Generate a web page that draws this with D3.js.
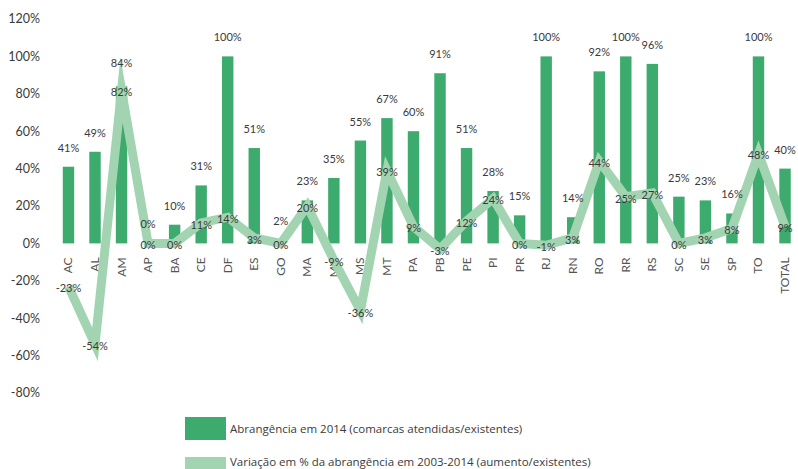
<!DOCTYPE html>
<html>
<head>
<meta charset="utf-8">
<script src="https://cdn.jsdelivr.net/npm/d3@7"></script>
<style>
  body { margin: 0; background: #fff; }
  text { font-family: "Lato", "Open Sans", sans-serif; fill: #3a3a3a; }
</style>
</head>
<body>
<div id="chart"></div>
<script>
const width = 798;
const height = 469;

// data
const states = ["AC", "AL", "AM", "AP", "BA", "CE", "DF", "ES", "GO", "MA", "MG", "MS", "MT", "PA",
  "PB", "PE", "PI", "PR", "RJ", "RN", "RO", "RR", "RS", "SC", "SE", "SP", "TO", "TOTAL"];
const coverage2014 = [41, 49, 84, 0, 10, 31, 100, 51, 2, 23, 35, 55, 67, 60,
  91, 51, 28, 15, 100, 14, 92, 100, 96, 25, 23, 16, 100, 40];
const variation = [-23, -54, 82, 0, 0, 11, 14, 3, 0, 20, -9, -36, 39, 9,
  -3, 12, 24, 0, -1, 3, 44, 25, 27, 0, 3, 8, 48, 9];
const yTicks = [-80, -60, -40, -20, 0, 20, 40, 60, 80, 100, 120];
const legendLabels = [
  "Abrangência em 2014 (comarcas atendidas/existentes)",
  "Variação em % da abrangência em 2003-2014 (aumento/existentes)"
];

const barColor = "#3daa6e";
const lineColor = "#a2d4b2";

const svg = d3.select("#chart")
  .append("svg")
  .attr("width", width)
  .attr("height", height);

const x = d3.scaleBand()
  .domain(states)
  .range([55.2, 798.3])
  .paddingInner(0.57)
  .paddingOuter(0.285);

const y = d3.scaleLinear()
  .domain([-80, 120])
  .range([393, 19]);

// y axis labels
svg.append("g")
  .selectAll("text")
  .data(yTicks)
  .enter()
  .append("text")
  .attr("x", 40)
  .attr("y", d => y(d))
  .attr("dy", "0.35em")
  .attr("text-anchor", "end")
  .style("font-size", "12.5px")
  .text(d => d + "%");

// bars
svg.append("g")
  .selectAll("rect")
  .data(states)
  .enter()
  .append("rect")
  .attr("x", d => x(d))
  .attr("width", x.bandwidth())
  .attr("y", (d, i) => y(coverage2014[i]))
  .attr("height", (d, i) => y(0) - y(coverage2014[i]))
  .attr("fill", barColor);

// category labels, rotated
svg.append("g")
  .selectAll("text")
  .data(states)
  .enter()
  .append("text")
  .attr("transform", d => `translate(${x(d) + x.bandwidth() / 2 + 4},${y(0) + 14}) rotate(-90)`)
  .attr("text-anchor", "end")
  .style("font-size", "12px")
  .style("fill", "#555")
  .text(d => d);

// variation line
const line = d3.line()
  .x((d, i) => x(states[i]) + x.bandwidth() / 2)
  .y(d => y(d));

svg.append("path")
  .datum(variation)
  .attr("d", line)
  .attr("fill", "none")
  .attr("stroke", lineColor)
  .attr("stroke-width", 9)
  .attr("stroke-linejoin", "miter")
  .attr("stroke-miterlimit", 10);

// bar value labels (AM label sits a little higher, clear of the line label)
svg.append("g")
  .selectAll("text")
  .data(states)
  .enter()
  .append("text")
  .attr("x", d => x(d) + x.bandwidth() / 2)
  .attr("y", (d, i) => y(coverage2014[i]) - (d === "AM" ? 19 : 15))
  .attr("text-anchor", "middle")
  .style("font-size", "11px")
  .text((d, i) => coverage2014[i] + "%");

// line value labels
svg.append("g")
  .selectAll("text")
  .data(states)
  .enter()
  .append("text")
  .attr("x", d => x(d) + x.bandwidth() / 2)
  .attr("y", (d, i) => y(variation[i]) + 2)
  .attr("dy", "0.35em")
  .attr("text-anchor", "middle")
  .style("font-size", "11px")
  .text((d, i) => variation[i] + "%");

// legend
const legend = svg.append("g")
  .selectAll("g")
  .data(legendLabels)
  .enter()
  .append("g")
  .attr("transform", (d, i) => `translate(185,${417 + i * 40})`);

legend.append("rect")
  .attr("width", 41)
  .attr("height", 23)
  .attr("fill", (d, i) => i === 0 ? barColor : lineColor);

legend.append("text")
  .attr("x", 45)
  .attr("y", (d, i) => i === 0 ? 12 : 5)
  .attr("dy", "0.35em")
  .style("font-family", "'Open Sans', sans-serif")
  .style("font-size", "11.5px")
  .text(d => d);
</script>
</body>
</html>
